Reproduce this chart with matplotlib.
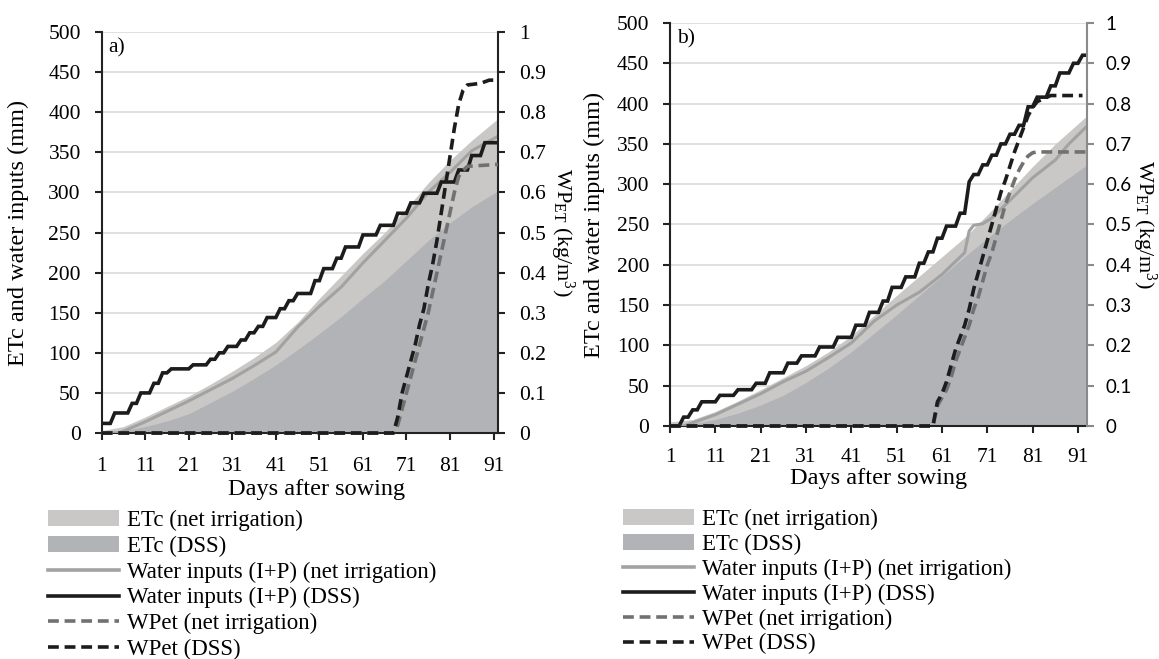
import numpy as np
import matplotlib
matplotlib.use("Agg")
import matplotlib.pyplot as plt
from matplotlib.patches import Patch
from matplotlib.lines import Line2D

plt.rcParams['font.family'] = ['Liberation Serif', 'DejaVu Serif']
plt.rcParams['mathtext.fontset'] = 'custom'
plt.rcParams['mathtext.rm'] = 'Liberation Serif'
plt.rcParams['mathtext.it'] = 'Liberation Serif:italic'
plt.rcParams['font.size'] = 15.5
LABEL_SIZE = 17.5

# ---- panel a) data ----
a_area_days = [1, 6, 11, 16, 21, 26, 31, 36, 41, 46, 51, 56, 61, 66, 71, 76, 81, 86, 92]
a_etc_net = [3, 8, 20, 33, 46, 61, 77, 94, 113, 138, 168, 196, 224, 250, 280, 312, 340, 365, 392]
a_etc_dss = [0, 3, 8, 15, 24, 38, 52, 68, 85, 104, 124, 145, 168, 190, 215, 240, 262, 282, 302]
a_water_net_days = [1, 5, 11, 16, 21, 26, 31, 36, 41, 46, 51, 56, 61, 66, 71, 76, 81, 86, 92]
a_water_net = [0, 0, 14, 27, 40, 54, 68, 84, 101, 132, 158, 182, 212, 240, 268, 300, 325, 352, 370]
# irrigation + rain events (day, cumulative mm), DSS
a_irr_days = [1, 4, 8, 10, 13, 15, 17, 22, 26, 28, 30, 33, 35, 37, 39, 42, 44, 46, 50, 52,
              55, 57, 61, 65, 69, 72, 75, 79, 83, 86, 89]
a_irr_cum = [12, 25, 37, 50, 62, 75, 80, 85, 92, 100, 108, 116, 125, 133, 144, 155, 165, 174, 190, 205,
             218, 232, 247, 259, 274, 287, 299, 313, 328, 346, 362]
a_wp_net_days = [1, 68, 69, 70, 71, 72, 73, 74, 75, 76, 77, 78, 79, 80, 81, 82, 83, 84, 85, 92]
a_wp_net = [0, 0, 0.02, 0.06, 0.1, 0.14, 0.18, 0.22, 0.26, 0.3, 0.35, 0.4, 0.45, 0.5, 0.55, 0.6,
            0.64, 0.655, 0.665, 0.67]
a_wp_dss_days = [1, 68, 69, 70, 71, 72, 73, 74, 75, 76, 77, 78, 79, 80, 81, 82, 83, 84, 85, 88, 90, 92]
a_wp_dss = [0, 0, 0.04, 0.1, 0.14, 0.18, 0.22, 0.27, 0.31, 0.37, 0.42, 0.48, 0.55, 0.62, 0.69, 0.76,
            0.82, 0.855, 0.868, 0.872, 0.88, 0.88]

# ---- panel b) data ----
b_area_days = [1, 6, 11, 16, 21, 26, 31, 36, 41, 46, 51, 56, 61, 66, 71, 76, 81, 86, 93]
b_etc_net = [5, 8, 18, 31, 45, 60, 75, 92, 112, 137, 162, 186, 210, 234, 262, 292, 322, 350, 385]
b_etc_dss = [0, 3, 8, 16, 26, 38, 54, 72, 92, 115, 138, 162, 186, 210, 233, 255, 276, 296, 324]
b_water_net_days = [1, 4, 6, 11, 16, 21, 26, 31, 36, 41, 46, 51, 56, 61, 66, 67, 68, 70, 72, 76,
                    81, 86, 89, 93]
b_water_net = [0, 0, 4, 14, 27, 40, 55, 68, 85, 103, 130, 150, 166, 188, 215, 242, 249, 251, 258, 280,
               308, 330, 350, 372]
b_irr_days = [1, 4, 6, 8, 12, 16, 20, 23, 27, 30, 34, 38, 42, 45, 48, 50, 53, 56, 58, 60,
              62, 65, 67, 68, 70, 72, 74, 76, 78, 80, 82, 85, 87, 90, 92]
b_irr_cum = [0, 11, 20, 30, 38, 45, 53, 66, 78, 87, 98, 110, 125, 141, 155, 172, 185, 202, 216, 233,
             248, 264, 303, 312, 324, 336, 350, 362, 373, 396, 408, 422, 438, 450, 460]
b_wp_net_days = [1, 59, 60, 61, 62, 63, 64, 65, 66, 67, 68, 69, 70, 71, 72, 73, 74, 75, 76, 77,
                 78, 79, 80, 81, 82, 93]
b_wp_net = [0, 0, 0.05, 0.07, 0.09, 0.12, 0.16, 0.19, 0.22, 0.25, 0.29, 0.32, 0.36, 0.4, 0.43, 0.47,
            0.51, 0.55, 0.58, 0.61, 0.635, 0.655, 0.67, 0.678, 0.68, 0.68]
b_wp_dss_days = [1, 59, 60, 61, 62, 63, 64, 65, 66, 67, 68, 69, 70, 71, 72, 73, 74, 75, 76, 77,
                 78, 79, 80, 81, 82, 83, 84, 85, 92]
b_wp_dss = [0, 0, 0.06, 0.08, 0.11, 0.15, 0.19, 0.22, 0.25, 0.29, 0.34, 0.38, 0.42, 0.46, 0.5, 0.54,
            0.58, 0.61, 0.645, 0.68, 0.71, 0.74, 0.77, 0.79, 0.805, 0.81, 0.815, 0.82, 0.82]

x_ticks = [1, 11, 21, 31, 41, 51, 61, 71, 81, 91]
left_ticks = [0, 50, 100, 150, 200, 250, 300, 350, 400, 450, 500]
right_ticks = [0, 0.1, 0.2, 0.3, 0.4, 0.5, 0.6, 0.7, 0.8, 0.9, 1]
right_labels = ['0', '0.1', '0.2', '0.3', '0.4', '0.5', '0.6', '0.7', '0.8', '0.9', '1']

LIGHT = '#c9c8c6'
DARK = '#b2b3b7'
GRAYLINE = '#a2a2a2'
BLACK = '#1c1c1c'
GRAYDASH = '#717171'
DASH = (0, (3, 1.6))


def cumulative(days, ev_days, ev_vals):
    idx = np.searchsorted(ev_days, days, side='right') - 1
    return np.array(ev_vals)[idx]


def panel(fig, rect, tag, ndays, area_days, etc_net, etc_dss, wn_days, wn, irr_days, irr_cum,
          wpn_days, wpn, wpd_days, wpd, right_col, right_font, right_size, right_pad,
          ylab_x, yr_x, xlab_x, xlab_y, xpad):
    ax = fig.add_axes(rect)
    days = np.arange(1, ndays + 1)
    ax.fill_between(area_days, etc_net, color=LIGHT, lw=0, zorder=1)
    ax.fill_between(area_days, etc_dss, color=DARK, lw=0, zorder=2)
    ax.plot(wn_days, wn, color=GRAYLINE, lw=2.2, zorder=3)
    ax.plot(days, cumulative(days, irr_days, irr_cum), color=BLACK, lw=2.6, zorder=4,
            solid_joinstyle='miter')
    ax.set_xlim(1, ndays)
    ax.set_ylim(0, 500)
    ax.set_yticks(left_ticks)
    ax.set_xticks(x_ticks)
    ax.grid(axis='y', color='#dadada', lw=1.2)
    ax.set_axisbelow(True)
    for s in ['top', 'right']:
        ax.spines[s].set_visible(False)
    for s in ['left', 'bottom']:
        ax.spines[s].set_color('#222222')
        ax.spines[s].set_linewidth(1.5)
    ax.tick_params(axis='both', direction='out', length=5, width=1.5, color='#222222', pad=10)
    ax.tick_params(axis='x', pad=xpad)
    ax.set_ylabel('ETc and water inputs (mm)', size=LABEL_SIZE)
    ax.yaxis.set_label_coords(ylab_x, 0.5)
    ax.set_xlabel('Days after sowing', size=LABEL_SIZE)
    ax.xaxis.set_label_coords(xlab_x, xlab_y)
    ax.text(0.016, 0.985, tag, transform=ax.transAxes, va='top', ha='left')

    ax2 = ax.twinx()
    ax2.plot(wpn_days, wpn, color=GRAYDASH, lw=2.6, ls=DASH, clip_on=False, zorder=5)
    ax2.plot(wpd_days, wpd, color=BLACK, lw=2.6, ls=DASH, clip_on=False, zorder=6)
    ax2.set_ylim(0, 1)
    ax2.set_xlim(1, ndays)
    ax2.set_yticks(right_ticks)
    ax2.set_yticklabels(right_labels, family=right_font, size=right_size)
    for s in ['top', 'left', 'bottom']:
        ax2.spines[s].set_visible(False)
    ax2.spines['right'].set_color(right_col)
    ax2.spines['right'].set_linewidth(1.5)
    ax2.tick_params(axis='y', direction='out', length=5, width=1.5, color=right_col,
                    pad=right_pad)
    ax2.set_ylabel(r'WP$_{\mathregular{ET}}$ (kg/m$^{\mathregular{3}}$)', rotation=270,
                   size=16)
    ax2.yaxis.set_label_coords(yr_x, 0.5)
    ax2.yaxis.label.set_verticalalignment('bottom')
    return ax


fig = plt.figure(figsize=(11.59, 6.59), dpi=100)

panel(fig, [0.0877, 0.3429, 0.3419, 0.6085], 'a)', 92, a_area_days, a_etc_net, a_etc_dss,
      a_water_net_days, a_water_net, a_irr_days, a_irr_cum, a_wp_net_days, a_wp_net,
      a_wp_dss_days, a_wp_dss, '#222222', 'Liberation Serif', 15.5, 10,
      -0.184, 1.127, 0.543, -0.115, 12)
panel(fig, [0.5781, 0.3536, 0.3598, 0.6115], 'b)', 93, b_area_days, b_etc_net, b_etc_dss,
      b_water_net_days, b_water_net, b_irr_days, b_irr_cum, b_wp_net_days, b_wp_net,
      b_wp_dss_days, b_wp_dss, '#8a8a8a', 'Lato', 13.5, 8,
      -0.156, 1.103, 0.5, -0.105, 11)

handles = [Patch(facecolor=LIGHT, edgecolor='none'),
           Patch(facecolor=DARK, edgecolor='none'),
           Line2D([], [], color=GRAYLINE, lw=2.6),
           Line2D([], [], color=BLACK, lw=2.6),
           Line2D([], [], color=GRAYDASH, lw=2.6, ls=DASH),
           Line2D([], [], color=BLACK, lw=2.6, ls=DASH)]
labels = ['ETc (net irrigation)', 'ETc (DSS)', 'Water inputs (I+P) (net irrigation)',
          'Water inputs (I+P) (DSS)', 'WPet (net irrigation)', 'WPet (DSS)']

for x0, y0, sp in [(48 / 1159, 1 - 510 / 659, 0.2), (623 / 1159, 1 - 509 / 659, 0.16)]:
    fig.legend(handles, labels, loc='upper left', bbox_to_anchor=(x0, y0), frameon=False,
               borderpad=0, borderaxespad=0, handlelength=3.1, handletextpad=0.35,
               labelspacing=sp, handleheight=0.65, fontsize=16.5)

fig.savefig('out.png', dpi=100)
